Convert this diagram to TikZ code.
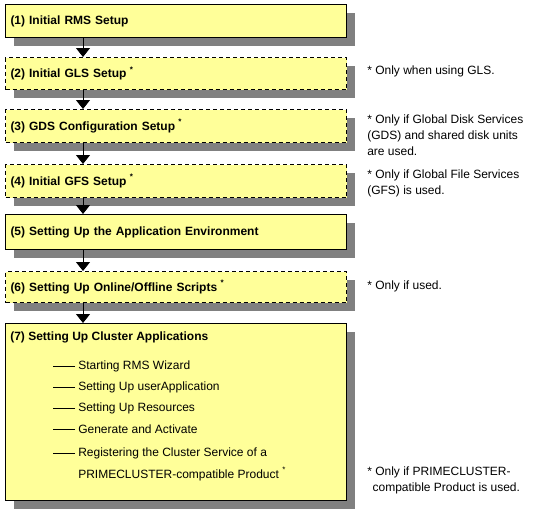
\documentclass[tikz,border=0pt]{standalone}
\usepackage{fontspec}
\setmainfont{Liberation Sans}
\usetikzlibrary{shadows,arrows.meta}
\newdimen\pxu
\pxu=0.75pt
\definecolor{boxyellow}{HTML}{FFFF99}
\definecolor{shadowgray}{HTML}{808080}
\tikzset{
  stepbox/.style={draw=black, line width=0.75pt, fill=boxyellow, anchor=north west,
    text width=331\pxu, inner xsep=5\pxu, inner ysep=0pt, align=left,
    font=\fontsize{9}{11}\selectfont\bfseries,
    drop shadow={shadow xshift=6pt, shadow yshift=-6pt, fill=shadowgray, opacity=1}},
  optbox/.style={stepbox, dash pattern=on 3pt off 2.25pt},
  flow/.style={line width=0.75pt, -{Triangle[width=10.5pt,length=6.75pt]}},
  note/.style={anchor=west, inner sep=0pt, align=left, font=\fontsize{9}{12}\selectfont},
  item/.style={anchor=west, inner sep=0pt, font=\fontsize{9}{11}\selectfont},
  itemline/.style={line width=0.75pt},
  title/.style={anchor=west, inner sep=0pt, font=\fontsize{9}{11}\selectfont\bfseries}
}
\newcommand{\optmark}{\hspace{2.5pt}\textsuperscript{*}}
\begin{document}
\begin{tikzpicture}[x=0.75pt,y=-0.75pt]
\useasboundingbox (0,0) rectangle (542,519);
\coordinate (ax) at (83,0);
\node[stepbox, minimum height=33\pxu] (b1) at (5,4) {(1) Initial RMS Setup};
\node[optbox, minimum height=32\pxu] (b2) at (5,57) {(2) Initial GLS Setup\optmark};
\node[optbox, minimum height=33\pxu] (b3) at (5,109) {(3) GDS Configuration Setup\optmark};
\node[optbox, minimum height=33\pxu] (b4) at (5,164) {(4) Initial GFS Setup\optmark};
\node[stepbox, minimum height=35\pxu] (b5) at (5,214) {(5) Setting Up the Application Environment};
\node[optbox, minimum height=31\pxu] (b6) at (5,271) {(6) Setting Up Online/Offline Scripts\optmark};
\node[stepbox, minimum height=177\pxu] (b7) at (5,323) {};
\draw[flow] (b1.south -| ax) -- (b2.north -| ax);
\draw[flow] (b2.south -| ax) -- (b3.north -| ax);
\draw[flow] (b3.south -| ax) -- (b4.north -| ax);
\draw[flow] (b4.south -| ax) -- (b5.north -| ax);
\draw[flow] (b5.south -| ax) -- (b6.north -| ax);
\draw[flow] (b6.south -| ax) -- (b7.north -| ax);
\node[title] (t7) at (10,337) {(7) Setting Up Cluster Applications};
\node[item] (i1) at (78,366) {Starting RMS Wizard};
\node[item] (i2) at (78,387) {Setting Up userApplication};
\node[item] (i3) at (78,408) {Setting Up Resources};
\node[item] (i4) at (78,429) {Generate and Activate};
\node[item] (i5) at (78,453) {Registering the Cluster Service of a};
\node[item] (i6) at (78,474) {PRIMECLUSTER-compatible Product\optmark};
\foreach \i in {1,...,5}{
  \draw[itemline] ([xshift=-2.25pt]i\i.west) -- ++(-22,0);
}
\node[note] (n2) at (367,71) {* Only when using GLS.};
\node[note, anchor=north west] (n3) at (367,115) {* Only if Global Disk Services\\(GDS) and shared disk units\\are used.};
\node[note, anchor=north west] (n4) at (367,170) {* Only if Global File Services\\(GFS) is used.};
\node[note] (n6) at (367,286) {* Only if used.};
\node[note, anchor=north west] (n7) at (367,467) {* Only if PRIMECLUSTER-\\\hspace{4pt}compatible Product is used.};
\end{tikzpicture}
\end{document}
